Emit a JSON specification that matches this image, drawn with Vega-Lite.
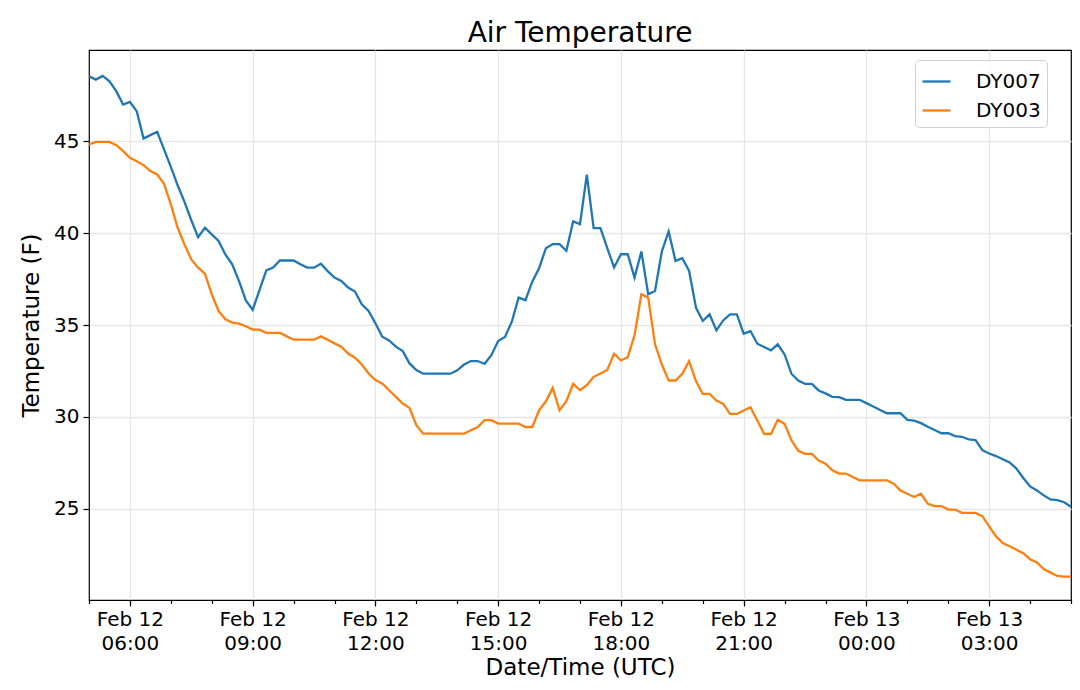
{
  "$schema": "https://vega.github.io/schema/vega-lite/v6.json",
  "width": 982,
  "height": 550,
  "autosize": "none",
  "padding": {"left": 89, "top": 50, "right": 9, "bottom": 90},
  "title": {"text": "Air Temperature", "fontSize": 28, "font": "DejaVu Sans", "fontWeight": "normal", "color": "black", "offset": 2},
  "data": {
    "values": [
      {"t": "2021-02-12T05:00:00Z", "DY007": 48.53, "DY003": 44.82},
      {"t": "2021-02-12T05:10:00Z", "DY007": 48.35, "DY003": 44.96},
      {"t": "2021-02-12T05:20:00Z", "DY007": 48.55, "DY003": 44.96},
      {"t": "2021-02-12T05:30:00Z", "DY007": 48.26, "DY003": 44.96},
      {"t": "2021-02-12T05:40:00Z", "DY007": 47.72, "DY003": 44.78},
      {"t": "2021-02-12T05:50:00Z", "DY007": 46.99, "DY003": 44.46},
      {"t": "2021-02-12T06:00:00Z", "DY007": 47.14, "DY003": 44.09},
      {"t": "2021-02-12T06:10:00Z", "DY007": 46.63, "DY003": 43.91},
      {"t": "2021-02-12T06:20:00Z", "DY007": 45.14, "DY003": 43.70},
      {"t": "2021-02-12T06:30:00Z", "DY007": 45.33, "DY003": 43.37},
      {"t": "2021-02-12T06:40:00Z", "DY007": 45.51, "DY003": 43.19},
      {"t": "2021-02-12T06:50:00Z", "DY007": 44.55, "DY003": 42.68},
      {"t": "2021-02-12T07:00:00Z", "DY007": 43.60, "DY003": 41.56},
      {"t": "2021-02-12T07:10:00Z", "DY007": 42.60, "DY003": 40.29},
      {"t": "2021-02-12T07:20:00Z", "DY007": 41.70, "DY003": 39.38},
      {"t": "2021-02-12T07:30:00Z", "DY007": 40.70, "DY003": 38.57},
      {"t": "2021-02-12T07:40:00Z", "DY007": 39.78, "DY003": 38.12},
      {"t": "2021-02-12T07:50:00Z", "DY007": 40.29, "DY003": 37.79},
      {"t": "2021-02-12T08:00:00Z", "DY007": 39.93, "DY003": 36.67},
      {"t": "2021-02-12T08:10:00Z", "DY007": 39.57, "DY003": 35.76},
      {"t": "2021-02-12T08:20:00Z", "DY007": 38.84, "DY003": 35.31},
      {"t": "2021-02-12T08:30:00Z", "DY007": 38.30, "DY003": 35.13},
      {"t": "2021-02-12T08:40:00Z", "DY007": 37.39, "DY003": 35.07},
      {"t": "2021-02-12T08:50:00Z", "DY007": 36.34, "DY003": 34.93},
      {"t": "2021-02-12T09:00:00Z", "DY007": 35.83, "DY003": 34.75},
      {"t": "2021-02-12T09:10:00Z", "DY007": 36.90, "DY003": 34.75},
      {"t": "2021-02-12T09:20:00Z", "DY007": 37.97, "DY003": 34.57},
      {"t": "2021-02-12T09:30:00Z", "DY007": 38.12, "DY003": 34.57},
      {"t": "2021-02-12T09:40:00Z", "DY007": 38.51, "DY003": 34.57},
      {"t": "2021-02-12T09:50:00Z", "DY007": 38.51, "DY003": 34.38},
      {"t": "2021-02-12T10:00:00Z", "DY007": 38.51, "DY003": 34.20},
      {"t": "2021-02-12T10:10:00Z", "DY007": 38.30, "DY003": 34.20},
      {"t": "2021-02-12T10:20:00Z", "DY007": 38.12, "DY003": 34.20},
      {"t": "2021-02-12T10:30:00Z", "DY007": 38.12, "DY003": 34.20},
      {"t": "2021-02-12T10:40:00Z", "DY007": 38.33, "DY003": 34.38},
      {"t": "2021-02-12T10:50:00Z", "DY007": 37.93, "DY003": 34.20},
      {"t": "2021-02-12T11:00:00Z", "DY007": 37.58, "DY003": 34.00},
      {"t": "2021-02-12T11:10:00Z", "DY007": 37.40, "DY003": 33.82},
      {"t": "2021-02-12T11:20:00Z", "DY007": 37.04, "DY003": 33.45},
      {"t": "2021-02-12T11:30:00Z", "DY007": 36.82, "DY003": 33.22},
      {"t": "2021-02-12T11:40:00Z", "DY007": 36.13, "DY003": 32.85},
      {"t": "2021-02-12T11:50:00Z", "DY007": 35.76, "DY003": 32.36},
      {"t": "2021-02-12T12:00:00Z", "DY007": 35.09, "DY003": 32.00},
      {"t": "2021-02-12T12:10:00Z", "DY007": 34.36, "DY003": 31.82},
      {"t": "2021-02-12T12:20:00Z", "DY007": 34.16, "DY003": 31.45},
      {"t": "2021-02-12T12:30:00Z", "DY007": 33.82, "DY003": 31.09},
      {"t": "2021-02-12T12:40:00Z", "DY007": 33.58, "DY003": 30.73},
      {"t": "2021-02-12T12:50:00Z", "DY007": 32.91, "DY003": 30.49},
      {"t": "2021-02-12T13:00:00Z", "DY007": 32.55, "DY003": 29.55},
      {"t": "2021-02-12T13:10:00Z", "DY007": 32.35, "DY003": 29.09},
      {"t": "2021-02-12T13:20:00Z", "DY007": 32.35, "DY003": 29.09},
      {"t": "2021-02-12T13:30:00Z", "DY007": 32.35, "DY003": 29.09},
      {"t": "2021-02-12T13:40:00Z", "DY007": 32.35, "DY003": 29.09},
      {"t": "2021-02-12T13:50:00Z", "DY007": 32.35, "DY003": 29.09},
      {"t": "2021-02-12T14:00:00Z", "DY007": 32.53, "DY003": 29.09},
      {"t": "2021-02-12T14:10:00Z", "DY007": 32.85, "DY003": 29.09},
      {"t": "2021-02-12T14:20:00Z", "DY007": 33.04, "DY003": 29.27},
      {"t": "2021-02-12T14:30:00Z", "DY007": 33.04, "DY003": 29.45},
      {"t": "2021-02-12T14:40:00Z", "DY007": 32.89, "DY003": 29.82},
      {"t": "2021-02-12T14:50:00Z", "DY007": 33.36, "DY003": 29.82},
      {"t": "2021-02-12T15:00:00Z", "DY007": 34.13, "DY003": 29.64},
      {"t": "2021-02-12T15:10:00Z", "DY007": 34.35, "DY003": 29.64},
      {"t": "2021-02-12T15:20:00Z", "DY007": 35.18, "DY003": 29.64},
      {"t": "2021-02-12T15:30:00Z", "DY007": 36.49, "DY003": 29.64},
      {"t": "2021-02-12T15:40:00Z", "DY007": 36.35, "DY003": 29.45},
      {"t": "2021-02-12T15:50:00Z", "DY007": 37.36, "DY003": 29.45},
      {"t": "2021-02-12T16:00:00Z", "DY007": 38.09, "DY003": 30.36},
      {"t": "2021-02-12T16:10:00Z", "DY007": 39.18, "DY003": 30.85},
      {"t": "2021-02-12T16:20:00Z", "DY007": 39.40, "DY003": 31.58},
      {"t": "2021-02-12T16:30:00Z", "DY007": 39.40, "DY003": 30.36},
      {"t": "2021-02-12T16:40:00Z", "DY007": 39.04, "DY003": 30.85},
      {"t": "2021-02-12T16:50:00Z", "DY007": 40.64, "DY003": 31.80},
      {"t": "2021-02-12T17:00:00Z", "DY007": 40.49, "DY003": 31.45},
      {"t": "2021-02-12T17:10:00Z", "DY007": 43.18, "DY003": 31.73},
      {"t": "2021-02-12T17:20:00Z", "DY007": 40.27, "DY003": 32.18},
      {"t": "2021-02-12T17:30:00Z", "DY007": 40.27, "DY003": 32.36},
      {"t": "2021-02-12T17:40:00Z", "DY007": 39.18, "DY003": 32.55},
      {"t": "2021-02-12T17:50:00Z", "DY007": 38.13, "DY003": 33.44},
      {"t": "2021-02-12T18:00:00Z", "DY007": 38.85, "DY003": 33.07},
      {"t": "2021-02-12T18:10:00Z", "DY007": 38.85, "DY003": 33.25},
      {"t": "2021-02-12T18:20:00Z", "DY007": 37.58, "DY003": 34.45},
      {"t": "2021-02-12T18:30:00Z", "DY007": 39.00, "DY003": 36.67},
      {"t": "2021-02-12T18:40:00Z", "DY007": 36.67, "DY003": 36.49},
      {"t": "2021-02-12T18:50:00Z", "DY007": 36.85, "DY003": 33.95},
      {"t": "2021-02-12T19:00:00Z", "DY007": 39.00, "DY003": 32.85},
      {"t": "2021-02-12T19:10:00Z", "DY007": 40.09, "DY003": 31.98},
      {"t": "2021-02-12T19:20:00Z", "DY007": 38.49, "DY003": 31.98},
      {"t": "2021-02-12T19:30:00Z", "DY007": 38.64, "DY003": 32.35},
      {"t": "2021-02-12T19:40:00Z", "DY007": 37.95, "DY003": 33.04},
      {"t": "2021-02-12T19:50:00Z", "DY007": 35.95, "DY003": 31.95},
      {"t": "2021-02-12T20:00:00Z", "DY007": 35.22, "DY003": 31.25},
      {"t": "2021-02-12T20:10:00Z", "DY007": 35.58, "DY003": 31.25},
      {"t": "2021-02-12T20:20:00Z", "DY007": 34.71, "DY003": 30.89},
      {"t": "2021-02-12T20:30:00Z", "DY007": 35.25, "DY003": 30.71},
      {"t": "2021-02-12T20:40:00Z", "DY007": 35.58, "DY003": 30.16},
      {"t": "2021-02-12T20:50:00Z", "DY007": 35.58, "DY003": 30.16},
      {"t": "2021-02-12T21:00:00Z", "DY007": 34.53, "DY003": 30.35},
      {"t": "2021-02-12T21:10:00Z", "DY007": 34.67, "DY003": 30.53},
      {"t": "2021-02-12T21:20:00Z", "DY007": 33.98, "DY003": 29.80},
      {"t": "2021-02-12T21:30:00Z", "DY007": 33.80, "DY003": 29.07},
      {"t": "2021-02-12T21:40:00Z", "DY007": 33.62, "DY003": 29.07},
      {"t": "2021-02-12T21:50:00Z", "DY007": 33.95, "DY003": 29.84},
      {"t": "2021-02-12T22:00:00Z", "DY007": 33.40, "DY003": 29.62},
      {"t": "2021-02-12T22:10:00Z", "DY007": 32.35, "DY003": 28.73},
      {"t": "2021-02-12T22:20:00Z", "DY007": 31.98, "DY003": 28.16},
      {"t": "2021-02-12T22:30:00Z", "DY007": 31.80, "DY003": 27.99},
      {"t": "2021-02-12T22:40:00Z", "DY007": 31.80, "DY003": 27.99},
      {"t": "2021-02-12T22:50:00Z", "DY007": 31.44, "DY003": 27.63},
      {"t": "2021-02-12T23:00:00Z", "DY007": 31.28, "DY003": 27.46},
      {"t": "2021-02-12T23:10:00Z", "DY007": 31.09, "DY003": 27.10},
      {"t": "2021-02-12T23:20:00Z", "DY007": 31.08, "DY003": 26.92},
      {"t": "2021-02-12T23:30:00Z", "DY007": 30.93, "DY003": 26.92},
      {"t": "2021-02-12T23:40:00Z", "DY007": 30.93, "DY003": 26.73},
      {"t": "2021-02-12T23:50:00Z", "DY007": 30.93, "DY003": 26.55},
      {"t": "2021-02-13T00:00:00Z", "DY007": 30.75, "DY003": 26.55},
      {"t": "2021-02-13T00:10:00Z", "DY007": 30.57, "DY003": 26.55},
      {"t": "2021-02-13T00:20:00Z", "DY007": 30.38, "DY003": 26.55},
      {"t": "2021-02-13T00:30:00Z", "DY007": 30.20, "DY003": 26.55},
      {"t": "2021-02-13T00:40:00Z", "DY007": 30.20, "DY003": 26.37},
      {"t": "2021-02-13T00:50:00Z", "DY007": 30.20, "DY003": 26.00},
      {"t": "2021-02-13T01:00:00Z", "DY007": 29.84, "DY003": 25.82},
      {"t": "2021-02-13T01:10:00Z", "DY007": 29.80, "DY003": 25.64},
      {"t": "2021-02-13T01:20:00Z", "DY007": 29.66, "DY003": 25.82},
      {"t": "2021-02-13T01:30:00Z", "DY007": 29.47, "DY003": 25.27},
      {"t": "2021-02-13T01:40:00Z", "DY007": 29.29, "DY003": 25.15},
      {"t": "2021-02-13T01:50:00Z", "DY007": 29.11, "DY003": 25.15},
      {"t": "2021-02-13T02:00:00Z", "DY007": 29.11, "DY003": 24.96},
      {"t": "2021-02-13T02:10:00Z", "DY007": 28.96, "DY003": 24.96},
      {"t": "2021-02-13T02:20:00Z", "DY007": 28.92, "DY003": 24.78},
      {"t": "2021-02-13T02:30:00Z", "DY007": 28.78, "DY003": 24.78},
      {"t": "2021-02-13T02:40:00Z", "DY007": 28.74, "DY003": 24.78},
      {"t": "2021-02-13T02:50:00Z", "DY007": 28.19, "DY003": 24.60},
      {"t": "2021-02-13T03:00:00Z", "DY007": 28.01, "DY003": 24.05},
      {"t": "2021-02-13T03:10:00Z", "DY007": 27.87, "DY003": 23.50},
      {"t": "2021-02-13T03:20:00Z", "DY007": 27.70, "DY003": 23.14},
      {"t": "2021-02-13T03:30:00Z", "DY007": 27.52, "DY003": 22.96},
      {"t": "2021-02-13T03:40:00Z", "DY007": 27.19, "DY003": 22.77},
      {"t": "2021-02-13T03:50:00Z", "DY007": 26.68, "DY003": 22.59},
      {"t": "2021-02-13T04:00:00Z", "DY007": 26.22, "DY003": 22.26},
      {"t": "2021-02-13T04:10:00Z", "DY007": 26.00, "DY003": 22.08},
      {"t": "2021-02-13T04:20:00Z", "DY007": 25.73, "DY003": 21.72},
      {"t": "2021-02-13T04:30:00Z", "DY007": 25.51, "DY003": 21.53},
      {"t": "2021-02-13T04:40:00Z", "DY007": 25.47, "DY003": 21.35},
      {"t": "2021-02-13T04:50:00Z", "DY007": 25.36, "DY003": 21.31},
      {"t": "2021-02-13T05:00:00Z", "DY007": 25.11, "DY003": 21.31}
    ]
  },
  "transform": [{"fold": ["DY007", "DY003"], "as": ["station", "temp"]}],
  "layer": [
    {
      "mark": {"type": "line", "opacity": 0},
      "encoding": {
        "x": {
          "field": "t",
          "type": "temporal",
          "title": "Date/Time (UTC)",
          "scale": {"type": "utc", "nice": false},
          "axis": {
            "orient": "bottom",
            "grid": true,
            "tickCount": 8,
            "labelExpr": "[utcFormat(datum.value, '%b %d'), utcFormat(datum.value, '%H:%M')]",
            "tickSize": 6,
            "labelLineHeight": 24,
            "labelPadding": 3,
            "labelOverlap": false,
            "labelFlush": false,
            "titlePadding": 3
          }
        },
        "y": {"field": "temp", "type": "quantitative"},
        "detail": {"field": "station"}
      }
    },
    {
      "mark": {"type": "line", "strokeWidth": 2.3},
      "encoding": {
        "x": {
          "field": "t",
          "type": "temporal",
          "scale": {"type": "utc", "nice": false},
          "axis": {"orient": "bottom", "title": null, "labels": false, "grid": false, "tickSize": 3.5}
        },
        "y": {
          "field": "temp",
          "type": "quantitative",
          "title": "Temperature (F)",
          "scale": {"domain": [20.04, 49.96], "nice": false, "zero": false},
          "axis": {"values": [25, 30, 35, 40, 45], "tickSize": 6, "labelPadding": 4, "titlePadding": 10}
        },
        "color": {
          "field": "station",
          "type": "nominal",
          "sort": ["DY007", "DY003"],
          "scale": {"domain": ["DY007", "DY003"], "range": ["#1f77b4", "#ff7f0e"]},
          "legend": {
            "title": null,
            "orient": "none",
            "legendX": 826,
            "legendY": 10,
            "symbolType": "stroke",
            "symbolSize": 784,
            "symbolStrokeWidth": 2.3,
            "labelFontSize": 20,
            "labelOffset": 24,
            "rowPadding": 3,
            "padding": 6,
            "fillColor": "rgba(255,255,255,0.8)",
            "strokeColor": "#d0d0d0",
            "cornerRadius": 4
          }
        }
      }
    }
  ],
  "resolve": {"axis": {"x": "independent"}},
  "config": {
    "font": "DejaVu Sans",
    "view": {"stroke": "black", "strokeWidth": 1.2},
    "axis": {
      "domain": false,
      "tickColor": "black",
      "tickWidth": 1.2,
      "labelColor": "black",
      "labelFontSize": 20,
      "labelFont": "DejaVu Sans",
      "titleColor": "black",
      "titleFontSize": 23,
      "titleFont": "DejaVu Sans",
      "titleFontWeight": "normal",
      "gridColor": "#e6e6e6",
      "gridWidth": 1.3
    },
    "legend": {"labelColor": "black", "labelFont": "DejaVu Sans"}
  }
}
